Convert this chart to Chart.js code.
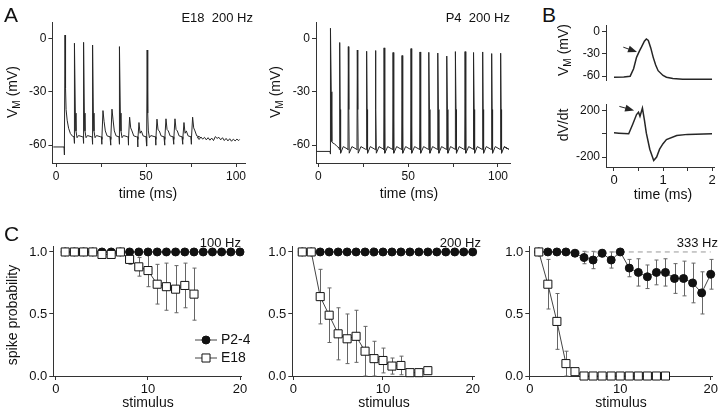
<!DOCTYPE html>
<html>
<head>
<meta charset="utf-8">
<script src="https://cdn.jsdelivr.net/npm/chart.js@4.4.1/dist/chart.umd.min.js"></script>
<style>
  html, body { margin: 0; padding: 0; background: #fff; }
  #fig { position: relative; width: 720px; height: 412px; overflow: hidden; font-family: "Liberation Sans", Arial, Helvetica, sans-serif; color: #111; }
  #fig canvas { position: absolute; }
  .t { position: absolute; white-space: pre; line-height: 1; }
  .panel { font-size: 21px; }
  .ytitle { transform: translate(-50%, -50%) rotate(-90deg); font-size: 14px; }
  .xtitle { transform: translate(-50%, -50%); font-size: 14px; }
  .note { transform: translate(-100%, -50%); font-size: 13px; }
  sub { font-size: 0.72em; vertical-align: -0.25em; line-height: 0; }
</style>
</head>
<body>
<div id="fig">
  <canvas id="aE18"></canvas>
  <canvas id="aP4"></canvas>
  <canvas id="bVm"></canvas>
  <canvas id="bDv"></canvas>
  <canvas id="c100"></canvas>
  <canvas id="c200"></canvas>
  <canvas id="c333"></canvas>

  <div class="t panel" style="left:4px;top:4px">A</div>
  <div class="t panel" style="left:542px;top:4px">B</div>
  <div class="t panel" style="left:4px;top:223px">C</div>

  <div class="t note" style="left:253px;top:17px">E18  200 Hz</div>
  <div class="t note" style="left:510px;top:17px">P4  200 Hz</div>
  <div class="t note" style="left:241px;top:242px">100 Hz</div>
  <div class="t note" style="left:481px;top:242px">200 Hz</div>
  <div class="t note" style="left:718px;top:242px">333 Hz</div>

  <div class="t ytitle" style="left:12px;top:92px">V<sub>M</sub> (mV)</div>
  <div class="t ytitle" style="left:275px;top:92px">V<sub>M</sub> (mV)</div>
  <div class="t ytitle" style="left:563px;top:50px">V<sub>M</sub> (mV)</div>
  <div class="t ytitle" style="left:563px;top:125px">dV/dt</div>
  <div class="t ytitle" style="left:12px;top:315px">spike probability</div>

  <div class="t xtitle" style="left:148px;top:193px">time (ms)</div>
  <div class="t xtitle" style="left:409px;top:193px">time (ms)</div>
  <div class="t xtitle" style="left:663px;top:194px">time (ms)</div>
  <div class="t xtitle" style="left:148px;top:402px">stimulus</div>
  <div class="t xtitle" style="left:384px;top:402px">stimulus</div>
  <div class="t xtitle" style="left:621px;top:402px">stimulus</div>
</div>
<script>
// ---------- A: 200 Hz trains, E18 and P4 (time ms, Vm mV) ----------
const e18Start = [[-1.5, -61], [4.5, -61], [4.6, -65.5], [4.75, -61.5], [5.0, 1.8], [5.3, -28], [5.6, -40],
  [6.2, -46], [7.0, -50.5], [8.0, -53.5], [9.2, -55], [10.0, -55.3]];
const e18Times = [10.2, 15.2, 20.2, 25.4, 30.4, 35.2, 40.2, 45.4, 50.4, 55.4, 60.4, 65.4, 70.4, 75.2];
const e18Peaks = [-2.8, -2.3, -3.8, -40.6, -39.8, -4.7, -44.3, -47.3, -6.6, -45.4, -45.2, -45.2, -47.3, -44.3];
const e18Dips = [-59, -59, -59.5, -59.5, -60, -59.5, -60, -61, -60.5, -60, -60, -59.5, -59.5, -59.5];
const e18Rest = -55.3;
const e18Tail = [[78.5, -55.6], [79.5, -56.8], [80.5, -55.4], [81.5, -56.6], [82.5, -55.6], [83.5, -57],
  [84.5, -55.8], [85.5, -57.2], [86.5, -56], [87.5, -57.4], [88.5, -55.2], [89.5, -56.2], [90.5, -55.6],
  [91.5, -57], [92.5, -55.8], [93.5, -57.4], [94.5, -56.2], [95.5, -57.6], [96.5, -56.4], [97.5, -57.8],
  [98.5, -56.6], [99.5, -57.6], [100.5, -56.6], [101.5, -57.4], [102, -56.8]];

const p4Start = [[-1, -63.5], [6.5, -63.5], [6.6, -65], [6.9, 5.6], [7.2, -30], [7.5, -58], [8.0, -58.8],
  [9.0, -59.2], [10.2, -60.5], [11.5, -61.5]];
const p4Times = [11.7, 16.5, 21.5, 26.7, 31.6, 36.4, 41.4, 46.4, 51.4, 56.4, 61.4, 66.4, 71.4, 76.2, 81.5,
  86.3, 91.3, 96.3, 101.3];
const p4Peaks = [-2.4, -4.7, -6.6, -7.3, -6.9, -5.4, -8.0, -9.7, -5.8, -7.7, -7.9, -8.3, -10.0, -7.5, -7.5,
  -8.0, -7.7, -8.6, -8.4];
const p4Ahp = -64.5;
const p4Tail = [[103.5, -61], [105.5, -62]];

const aTimeTicks = [0, 25, 50, 75, 100];
const aTimeLabels = ['0', '', '50', '', '100'];
const vmTicks = [-60, -30, 0];
const vmLabels = ['-60', '-30', '0'];

// ---------- B: single spike and its derivative ----------
const bVmTime = [0, 0.2, 0.33, 0.4, 0.46, 0.52, 0.56, 0.62, 0.66, 0.7, 0.75, 0.8, 0.85, 0.9, 1.0, 1.07, 1.2, 1.4, 1.7, 2.0];
const bVm = [-61.4, -61, -60, -50, -34.7, -26, -21, -13, -10, -12, -22, -34.7, -45, -52.6, -59, -61.4, -63, -64, -64, -64];
const bDvTime = [0, 0.1, 0.3, 0.38, 0.46, 0.5, 0.53, 0.58, 0.62, 0.66, 0.73, 0.81, 0.87, 0.93, 1.0, 1.07, 1.28, 1.5, 2.0];
const bDv = [8, 5, 0, 80, 165, 185, 150, 220, 120, 5, -132, -229, -200, -132, -85, -50, -15, -5, 0];
const bTimeTicks = [0, 0.5, 1, 1.5, 2];
const bTimeLabels = ['0', '', '1', '', '2'];
const bDvTicks = [-200, 0, 200];
const bDvLabels = ['-200', '', '200'];

// ---------- C: spike probability per stimulus ----------
const stimulus = [1, 2, 3, 4, 5, 6, 7, 8, 9, 10, 11, 12, 13, 14, 15, 16, 17, 18, 19, 20];
const p24at100 = [1, 1, 1, 1, 1, 1, 1, 1, 1, 1, 1, 1, 1, 1, 1, 1, 1, 1, 1, 1];
const e18at100 = [1, 1, 1, 1, 0.98, 0.98, 1, 0.94, 0.88, 0.85, 0.74, 0.72, 0.70, 0.73, 0.66];
const e18at100Err = [0, 0, 0, 0, 0, 0, 0, 0.04, 0.075, 0.13, 0.16, 0.19, 0.19, 0.18, 0.21];
const p24at200 = [1, 1, 1, 1, 1, 1, 1, 1, 1, 1, 1, 1, 1, 1, 1, 1, 1, 1, 1, 1];
const e18at200 = [1, 1, 0.64, 0.49, 0.34, 0.30, 0.32, 0.20, 0.14, 0.125, 0.08, 0.085, 0.027, 0.027, 0.043];
const e18at200Err = [0, 0, 0.22, 0.22, 0.21, 0.2, 0.21, 0.2, 0.14, 0.1, 0.065, 0.075, 0, 0, 0.025];
const p24at333 = [1, 1, 1, 1, 0.99, 0.955, 0.935, 0.99, 0.935, 1, 0.87, 0.835, 0.80, 0.835, 0.835, 0.786, 0.786, 0.75, 0.67, 0.82];
const p24at333Err = [0, 0, 0, 0, 0.01, 0.05, 0.07, 0.03, 0.065, 0, 0.07, 0.11, 0.095, 0.10, 0.11, 0.12, 0.14, 0.16, 0.17, 0.12];
const e18at333 = [1, 0.74, 0.44, 0.10, 0.035, 0, 0, 0, 0, 0, 0, 0, 0, 0, 0];
const e18at333Err = [0, 0.2, 0.225, 0.1, 0.02, 0, 0, 0, 0, 0, 0, 0, 0, 0, 0];
const refLevel333 = [[1, 1], [20, 1]];
const probTicks = [0, 0.5, 1];
const probLabels = ['0.0', '0.5', '1.0'];
const stimTicks = [0, 10, 20];
const stimLabels = ['0', '10', '20'];

const fontFam = '"Liberation Sans", Arial, sans-serif';
const axisColor = '#333';
const inkColor = '#262626';

const pairs = (list) => list.map(p => ({ x: p[0], y: p[1] }));
const zipXY = (xs, ys) => ys.map((v, i) => ({ x: xs[i], y: v }));

// E18 train: each stimulus gives either a full spike or a subthreshold bump
function buildE18() {
  const pts = pairs(e18Start);
  e18Times.forEach((t, i) => {
    const pk = e18Peaks[i];
    pts.push({ x: t - 0.1, y: e18Rest }, { x: t, y: e18Dips[i] });
    if (pk > -30) {
      pts.push({ x: t + 0.25, y: pk }, { x: t + 0.55, y: -42 }, { x: t + 0.9, y: -52 },
        { x: t + 1.5, y: -55.8 }, { x: t + 2.3, y: -54.6 }, { x: t + 4.6, y: e18Rest });
    } else {
      pts.push({ x: t + 0.15, y: e18Rest - 1.5 }, { x: t + 0.7, y: pk }, { x: t + 1.3, y: pk - 6 },
        { x: t + 2.0, y: -52 }, { x: t + 3.0, y: -54.8 }, { x: t + 4.6, y: e18Rest });
    }
  });
  return pts.concat(pairs(e18Tail));
}

function buildP4() {
  const pts = pairs(p4Start);
  p4Times.forEach((t, i) => {
    pts.push({ x: t, y: -62.5 }, { x: t + 0.2, y: p4Peaks[i] }, { x: t + 0.45, y: -40 },
      { x: t + 0.7, y: p4Ahp }, { x: t + 2.2, y: -60.8 }, { x: t + 4.8, y: -62.3 });
  });
  return pts.concat(pairs(p4Tail));
}

function axis(o) {
  return {
    type: 'linear', min: o.min, max: o.max, display: o.display !== false,
    grid: { display: true, drawOnChartArea: false, drawTicks: true, tickLength: 4, color: axisColor, lineWidth: 1 },
    border: { display: true, color: axisColor, width: 1 },
    ticks: {
      color: '#111', padding: 2, maxRotation: 0, autoSkip: false,
      font: { size: o.font || 12, family: fontFam },
      callback: (v, i) => o.labels[i]
    },
    afterBuildTicks: (s) => { s.ticks = o.ticks.map(v => ({ value: v })); },
    afterFit: (s) => { if (s.isHorizontal()) s.height = o.size; else s.width = o.size; }
  };
}

// error whiskers, drawn under the markers
const errorBars = {
  id: 'errorBars',
  beforeDatasetsDraw(chart) {
    const { ctx } = chart;
    const x = chart.scales.x, y = chart.scales.y;
    chart.data.datasets.forEach(ds => {
      if (!ds.errors) return;
      ctx.save();
      ctx.strokeStyle = '#666';
      ctx.lineWidth = 1;
      ds.data.forEach((p, i) => {
        const e = ds.errors[i];
        if (!e) return;
        const px = Math.round(x.getPixelForValue(p.x)) + 0.5;
        const top = y.getPixelForValue(p.y + e);
        const bot = y.getPixelForValue(Math.max(0, p.y - e));
        ctx.beginPath();
        ctx.moveTo(px, top); ctx.lineTo(px, bot);
        ctx.moveTo(px - 2, top); ctx.lineTo(px + 2, top);
        ctx.moveTo(px - 2, bot); ctx.lineTo(px + 2, bot);
        ctx.stroke();
      });
      ctx.restore();
    });
  }
};

const arrowNote = {
  id: 'arrowNote',
  afterDatasetsDraw(chart, args, opts) {
    if (!opts || !opts.from) return;
    const { ctx } = chart;
    const x = chart.scales.x, y = chart.scales.y;
    const x0 = x.getPixelForValue(opts.from[0]), y0 = y.getPixelForValue(opts.from[1]);
    const x1 = x.getPixelForValue(opts.to[0]), y1 = y.getPixelForValue(opts.to[1]);
    const a = Math.atan2(y1 - y0, x1 - x0);
    ctx.save();
    ctx.strokeStyle = inkColor; ctx.fillStyle = inkColor; ctx.lineWidth = 1;
    ctx.beginPath(); ctx.moveTo(x0, y0); ctx.lineTo(x1 - 6 * Math.cos(a), y1 - 6 * Math.sin(a)); ctx.stroke();
    ctx.beginPath();
    ctx.moveTo(x1, y1);
    ctx.lineTo(x1 - 9 * Math.cos(a) + 3.5 * Math.sin(a), y1 - 9 * Math.sin(a) - 3.5 * Math.cos(a));
    ctx.lineTo(x1 - 9 * Math.cos(a) - 3.5 * Math.sin(a), y1 - 9 * Math.sin(a) + 3.5 * Math.cos(a));
    ctx.closePath(); ctx.fill();
    ctx.restore();
  }
};

const inlineLegend = {
  id: 'inlineLegend',
  afterDatasetsDraw(chart, args, opts) {
    if (!opts || !opts.items) return;
    const { ctx } = chart;
    opts.items.forEach((idx, k) => {
      const ds = chart.data.datasets[idx];
      const yy = opts.y + k * opts.gap;
      ctx.save();
      ctx.strokeStyle = ds.borderColor; ctx.lineWidth = 1;
      ctx.beginPath(); ctx.moveTo(opts.x, yy); ctx.lineTo(opts.x + 22, yy); ctx.stroke();
      ctx.fillStyle = ds.pointBackgroundColor; ctx.strokeStyle = ds.pointBorderColor; ctx.lineWidth = 1;
      Chart.helpers.drawPoint(ctx, { pointStyle: ds.pointStyle, radius: ds.pointRadius, rotation: 0, borderWidth: 1 }, opts.x + 11, yy);
      ctx.fillStyle = '#111';
      ctx.font = '14px ' + fontFam;
      ctx.textBaseline = 'middle';
      ctx.fillText(ds.label, opts.x + 26, yy + 0.5);
      ctx.restore();
    });
  }
};

function place(id, box, area, datasets, xo, yo, extra) {
  const cv = document.getElementById(id);
  cv.width = box.w; cv.height = box.h;
  cv.style.left = box.left + 'px'; cv.style.top = box.top + 'px';
  const bottomGap = box.top + box.h - area.bottom;
  xo.size = xo.display === false ? 0 : bottomGap;
  yo.size = area.left - box.left;
  return new Chart(cv.getContext('2d'), {
    type: 'line',
    data: { datasets },
    options: {
      responsive: false, animation: false, devicePixelRatio: 1, events: [],
      layout: { padding: { left: 0, top: area.top - box.top, right: box.left + box.w - area.right, bottom: xo.display === false ? bottomGap : 0 } },
      scales: { x: axis(xo), y: axis(yo) },
      plugins: Object.assign({ legend: { display: false }, tooltip: { enabled: false } }, extra || {})
    },
    plugins: [errorBars, arrowNote, inlineLegend]
  });
}

const trace = (data, w) => ({ data, borderColor: inkColor, borderWidth: w || 1, pointRadius: 0, tension: 0, fill: false });

// A
place('aE18', { left: 0, top: 0, w: 250, h: 200 }, { left: 52.4, top: 22.2, right: 245, bottom: 163 },
  [trace(buildE18())],
  { min: -2, max: 105, ticks: aTimeTicks, labels: aTimeLabels },
  { min: -70, max: 9, ticks: vmTicks, labels: vmLabels });
place('aP4', { left: 258, top: 0, w: 255, h: 200 }, { left: 316, top: 22.2, right: 510, bottom: 163 },
  [trace(buildP4())],
  { min: -1.3, max: 106.7, ticks: aTimeTicks, labels: aTimeLabels },
  { min: -70, max: 9, ticks: vmTicks, labels: vmLabels });

// B
place('bVm', { left: 560, top: 15, w: 160, h: 75 }, { left: 606, top: 25, right: 714, bottom: 82 },
  [trace(zipXY(bVmTime, bVm), 1.5)],
  { min: -0.163, max: 2.04, ticks: bTimeTicks, labels: bTimeLabels, display: false },
  { min: -66.2, max: 8.8, ticks: vmTicks, labels: vmLabels },
  { arrowNote: { from: [0.19, -21], to: [0.47, -27.6] } });
place('bDv', { left: 560, top: 95, w: 160, h: 112 }, { left: 606, top: 101.7, right: 714, bottom: 167 },
  [trace(zipXY(bDvTime, bDv), 1.5)],
  { min: -0.163, max: 2.04, ticks: bTimeTicks, labels: bTimeLabels, font: 13 },
  { min: -285, max: 254, ticks: bDvTicks, labels: bDvLabels },
  { arrowNote: { from: [0.11, 235], to: [0.41, 200] } });

// C
const p24Set = (vals, errs) => ({
  label: 'P2-4', data: zipXY(stimulus, vals), errors: errs, order: 2, clip: 12,
  borderColor: '#444', borderWidth: 1, tension: 0,
  pointStyle: 'circle', pointRadius: 4, pointBackgroundColor: '#111', pointBorderColor: '#111', pointBorderWidth: 1
});
const e18Set = (vals, errs) => ({
  label: 'E18', data: zipXY(stimulus, vals), errors: errs, order: 1, clip: 12,
  borderColor: '#444', borderWidth: 1, tension: 0,
  pointStyle: 'rect', pointRadius: 5.7, pointBackgroundColor: '#fff', pointBorderColor: '#111', pointBorderWidth: 1
});
const refLine = (pts) => ({
  data: pairs(pts), order: 3, borderColor: '#999', borderWidth: 1, borderDash: [5, 4], pointRadius: 0
});
const cBox = (left, w) => ({ left, top: 235, w, h: 177 });

place('c100', cBox(0, 250), { left: 53.3, top: 246, right: 241.5, bottom: 376 },
  [p24Set(p24at100), e18Set(e18at100, e18at100Err)],
  { min: -0.29, max: 20.16, ticks: stimTicks, labels: stimLabels, font: 13 },
  { min: 0, max: 1.048, ticks: probTicks, labels: probLabels, font: 13 },
  { inlineLegend: { items: [0, 1], x: 195, y: 105, gap: 18 } });
place('c200', cBox(250, 232), { left: 292.3, top: 246, right: 477, bottom: 376 },
  [p24Set(p24at200), e18Set(e18at200, e18at200Err)],
  { min: -0.11, max: 20.2, ticks: stimTicks, labels: stimLabels, font: 13 },
  { min: 0, max: 1.048, ticks: probTicks, labels: probLabels, font: 13 });
place('c333', cBox(482, 238), { left: 529.3, top: 246, right: 715, bottom: 376 },
  [refLine(refLevel333), p24Set(p24at333, p24at333Err), e18Set(e18at333, e18at333Err)],
  { min: -0.05, max: 20.2, ticks: stimTicks, labels: stimLabels, font: 13 },
  { min: 0, max: 1.048, ticks: probTicks, labels: probLabels, font: 13 });
</script>
</body>
</html>
